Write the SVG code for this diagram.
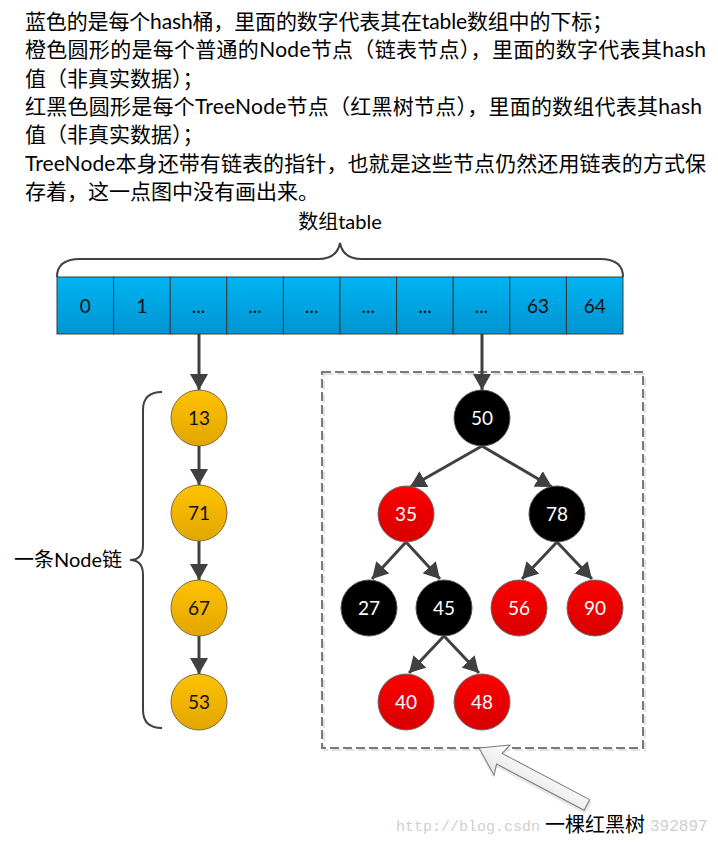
<svg xmlns="http://www.w3.org/2000/svg" width="718" height="846" viewBox="0 0 718 846">
<defs>
<linearGradient id="gBlue" x1="0" y1="0" x2="0" y2="1"><stop offset="0" stop-color="#00b4f2"/><stop offset="1" stop-color="#0094d2"/></linearGradient>
<linearGradient id="gOrange" x1="0" y1="0" x2="0" y2="1"><stop offset="0" stop-color="#ffc200"/><stop offset="1" stop-color="#e2a600"/></linearGradient>
<linearGradient id="gRed" x1="0" y1="0" x2="0" y2="1"><stop offset="0" stop-color="#ff0000"/><stop offset="1" stop-color="#d60000"/></linearGradient>
<linearGradient id="gArrow" x1="0" y1="0" x2="0" y2="1"><stop offset="0" stop-color="#ffffff"/><stop offset="1" stop-color="#e4e4e4"/></linearGradient>
<marker id="ah" markerUnits="userSpaceOnUse" markerWidth="17" markerHeight="18" refX="16" refY="9" orient="auto"><path d="M0,0 L16,9 L0,18 z" fill="#404040"/></marker>
<style>
.hdr{font-family:Lato,"Noto Sans CJK SC",sans-serif;font-size:21px;fill:#000}
.lbl{font-family:Lato,"Noto Sans CJK SC",sans-serif;font-size:20px;fill:#000}
.cell rect{fill:url(#gBlue);stroke:#3a3a3a;stroke-width:1}
.num{font-family:Lato,"Noto Sans",sans-serif;font-size:19px;text-anchor:middle}
.cell text{fill:#111}
.orange circle{fill:url(#gOrange);stroke:#7a6a40;stroke-width:1}
.orange text{fill:#111}
.red circle{fill:url(#gRed);stroke:#6a6a6a;stroke-width:1}
.black circle{fill:#000;stroke:#555;stroke-width:1}
.red text,.black text{fill:#fff}
.conn line{stroke:#404040;stroke-width:3;marker-end:url(#ah)}
.brace{fill:none;stroke:#404040;stroke-width:2}
</style>
</defs>
<rect width="718" height="846" fill="#fff"/>

<g id="description">
<text class="hdr" x="25" y="29" textLength="588" lengthAdjust="spacing">蓝色的是每个hash桶，里面的数字代表其在table数组中的下标；</text>
<text class="hdr" x="25" y="57.3" textLength="681" lengthAdjust="spacing">橙色圆形的是每个普通的Node节点（链表节点），里面的数字代表其hash</text>
<text class="hdr" x="25" y="85.7">值（非真实数据）；</text>
<text class="hdr" x="25" y="114" textLength="677" lengthAdjust="spacing">红黑色圆形是每个TreeNode节点（红黑树节点），里面的数组代表其hash</text>
<text class="hdr" x="25" y="142.3">值（非真实数据）；</text>
<text class="hdr" x="25" y="170.7" textLength="681" lengthAdjust="spacing">TreeNode本身还带有链表的指针，也就是这些节点仍然还用链表的方式保</text>
<text class="hdr" x="25" y="199">存着，这一点图中没有画出来。</text>
</g>

<g id="table-label">
<text class="lbl" x="340" y="229" text-anchor="middle">数组table</text>
<path class="brace" d="M57,277 Q57,259 80,259 L318,259 Q337,259 340,243 Q343,259 362,259 L600,259 Q623,259 623,277"/>
</g>

<g id="table">
<g id="cell-0" class="cell"><rect x="57" y="277" width="56.6" height="57"/><text class="num" x="85.3" y="313">0</text></g>
<g id="cell-1" class="cell"><rect x="113.6" y="277" width="56.6" height="57"/><text class="num" x="141.9" y="313">1</text></g>
<g id="cell-2" class="cell"><rect x="170.2" y="277" width="56.6" height="57"/><text class="num" x="198.5" y="313">...</text></g>
<g id="cell-3" class="cell"><rect x="226.8" y="277" width="56.6" height="57"/><text class="num" x="255.1" y="313">...</text></g>
<g id="cell-4" class="cell"><rect x="283.4" y="277" width="56.6" height="57"/><text class="num" x="311.7" y="313">...</text></g>
<g id="cell-5" class="cell"><rect x="340" y="277" width="56.6" height="57"/><text class="num" x="368.3" y="313">...</text></g>
<g id="cell-6" class="cell"><rect x="396.6" y="277" width="56.6" height="57"/><text class="num" x="424.9" y="313">...</text></g>
<g id="cell-7" class="cell"><rect x="453.2" y="277" width="56.6" height="57"/><text class="num" x="481.5" y="313">...</text></g>
<g id="cell-8" class="cell"><rect x="509.8" y="277" width="56.6" height="57"/><text class="num" x="538.1" y="313">63</text></g>
<g id="cell-9" class="cell"><rect x="566.4" y="277" width="56.6" height="57"/><text class="num" x="594.7" y="313">64</text></g>
</g>

<g id="tree-box">
<rect x="324" y="374" width="321" height="376" fill="none" stroke="#e2e2e2" stroke-width="2" stroke-dasharray="9,4"/>
<rect x="322" y="372" width="321" height="376" fill="none" stroke="#7a7a7a" stroke-width="2" stroke-dasharray="9,4"/>
</g>

<g id="connectors" class="conn">
<line x1="199" y1="334" x2="199" y2="390"/>
<line x1="199" y1="446" x2="199" y2="485"/>
<line x1="199" y1="541" x2="199" y2="580"/>
<line x1="199" y1="636" x2="199" y2="674"/>
<line x1="482" y1="334" x2="482" y2="390"/>
<line x1="482" y1="446" x2="410" y2="487"/>
<line x1="482" y1="446" x2="552" y2="487"/>
<line x1="406" y1="542" x2="372" y2="579"/>
<line x1="406" y1="542" x2="440" y2="579"/>
<line x1="557" y1="542" x2="522" y2="579"/>
<line x1="557" y1="542" x2="592" y2="579"/>
<line x1="444" y1="636" x2="409" y2="673"/>
<line x1="444" y1="636" x2="479" y2="673"/>
</g>

<g id="node-chain">
<g id="n13" class="orange"><circle cx="199" cy="418" r="28"/><text class="num" x="199" y="425">13</text></g>
<g id="n71" class="orange"><circle cx="199" cy="513" r="28"/><text class="num" x="199" y="520">71</text></g>
<g id="n67" class="orange"><circle cx="199" cy="608" r="28"/><text class="num" x="199" y="615">67</text></g>
<g id="n53" class="orange"><circle cx="199" cy="702" r="28"/><text class="num" x="199" y="709">53</text></g>
</g>

<g id="chain-label">
<path class="brace" d="M162,392 Q143,392 143,410 L143,545 Q143,560 130,560 Q143,560 143,575 L143,710 Q143,728 162,728"/>
<text class="lbl" x="14" y="567">一条Node链</text>
</g>

<g id="rb-tree">
<g id="t50" class="black"><circle cx="482" cy="418" r="28"/><text class="num" x="482" y="425">50</text></g>
<g id="t35" class="red"><circle cx="406" cy="514" r="28"/><text class="num" x="406" y="521">35</text></g>
<g id="t78" class="black"><circle cx="557" cy="514" r="28"/><text class="num" x="557" y="521">78</text></g>
<g id="t27" class="black"><circle cx="369" cy="608" r="28"/><text class="num" x="369" y="615">27</text></g>
<g id="t45" class="black"><circle cx="444" cy="608" r="28"/><text class="num" x="444" y="615">45</text></g>
<g id="t56" class="red"><circle cx="519" cy="608" r="28"/><text class="num" x="519" y="615">56</text></g>
<g id="t90" class="red"><circle cx="595" cy="608" r="28"/><text class="num" x="595" y="615">90</text></g>
<g id="t40" class="red"><circle cx="406" cy="702" r="28"/><text class="num" x="406" y="709">40</text></g>
<g id="t48" class="red"><circle cx="482" cy="702" r="28"/><text class="num" x="482" y="709">48</text></g>
</g>

<g id="watermark" font-family="'Liberation Mono',monospace" font-size="15" fill="#cfcfcf">
<text x="396" y="831">http://blog.csdn</text>
<text x="650" y="831" font-size="16">392897</text>
</g>

<g id="tree-callout">
<g transform="translate(479,748) rotate(27.8)">
<path d="M3,4 L27,-12 L25,-5 L125,-5 L125,9 L25,9 L27,20 z" fill="#d8d8d8" opacity="0.6"/>
<path d="M0,0 L26,-17 L23,-6 L122,-6 L122,6 L23,6 L26,17 z" fill="url(#gArrow)" stroke="#7a7a7a" stroke-width="1"/>
</g>
<text class="lbl" x="545" y="832">一棵红黑树</text>
</g>
</svg>
